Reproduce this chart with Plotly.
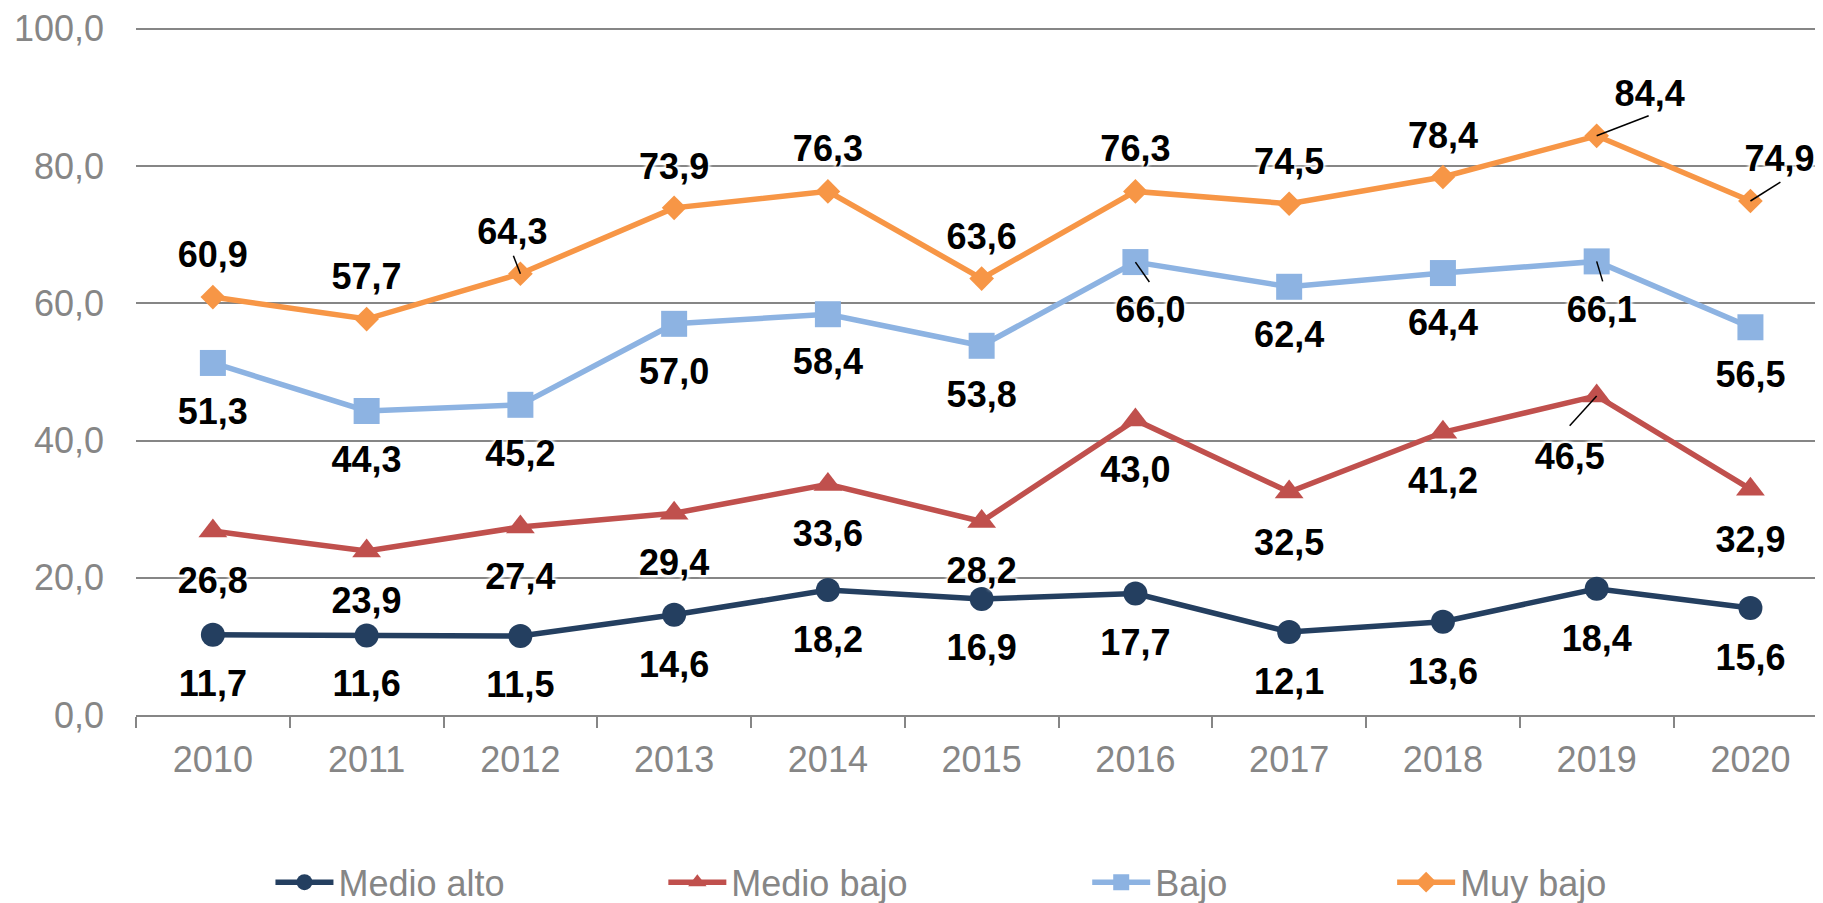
import plotly.graph_objects as go

# ---------------- data ----------------
years = ["2010", "2011", "2012", "2013", "2014", "2015", "2016", "2017", "2018", "2019", "2020"]
medio_alto = [11.7, 11.6, 11.5, 14.6, 18.2, 16.9, 17.7, 12.1, 13.6, 18.4, 15.6]
medio_bajo = [26.8, 23.9, 27.4, 29.4, 33.6, 28.2, 43.0, 32.5, 41.2, 46.5, 32.9]
bajo = [51.3, 44.3, 45.2, 57.0, 58.4, 53.8, 66.0, 62.4, 64.4, 66.1, 56.5]
muy_bajo = [60.9, 57.7, 64.3, 73.9, 76.3, 63.6, 76.3, 74.5, 78.4, 84.4, 74.9]
series_names = ["Medio alto", "Medio bajo", "Bajo", "Muy bajo"]

# ---------------- label placement (pixel offsets from the point, +down) ----------------
lab_dx = {
    "Medio alto": [0, 0, 0, 0, 0, 0, 0, 0, 0, 0, 0],
    "Medio bajo": [0, 0, 0, 0, 0, 0, 0, 0, 0, -27, 0],
    "Bajo": [0, 0, 0, 0, 0, 0, 15, 0, 0, 5, 0],
    "Muy bajo": [0, 0, -8, 0, 0, 0, 0, 0, 0, 53, 29],
}
lab_dy = {
    "Medio alto": [47, 47, 47, 48, 48, 47, 48, 48, 48, 48, 48],
    "Medio bajo": [48, 48, 48, 48, 48, 48, 48, 49, 47, 59, 49],
    "Bajo": [47, 47, 47, 46, 46, 47, 46, 46, 48, 47, 46],
    "Muy bajo": [-44, -44, -44, -43, -44, -44, -44, -44, -43, -44, -44],
}
TEXT_BASE_SHIFT = 5  # visual centre of digits vs. text anchor
# leader lines: point index -> end of the leader (pixel offset from the point)
leaders = {
    "Medio alto": {},
    "Medio bajo": {9: (-27, 30)},
    "Bajo": {6: (14, 20), 9: (6, 20)},
    "Muy bajo": {2: (-7, -18), 9: (52, -20), 10: (30, -19)},
}

# ---------------- styles ----------------
colors = {"Medio alto": "#243F60", "Medio bajo": "#C0504D", "Bajo": "#8DB3E2", "Muy bajo": "#F79646"}
symbols = {"Medio alto": "circle", "Medio bajo": "triangle-up", "Bajo": "square", "Muy bajo": "diamond"}
msizes = {"Medio alto": 24, "Medio bajo": 25, "Bajo": 26, "Muy bajo": 19}
values = {"Medio alto": medio_alto, "Medio bajo": medio_bajo, "Bajo": bajo, "Muy bajo": muy_bajo}

# page has an 8px body margin: figure coords = page coords - 8
W, H = 1815, 895
ML, MR, MT, MB = 127.5, 0, 17.75, 187.5
XR = [-0.5, 10.472]
YR = [0, 100.4]
plot_w = W - ML - MR
plot_h = H - MT - MB
sx = plot_w / (XR[1] - XR[0])   # px per category step
sy = plot_h / (YR[1] - YR[0])   # px per unit
gray = "#868686"
FONT = "Liberation Sans, Arial, sans-serif"

legend_sym_left = [269, 662, 1086, 1391]   # figure coords
legend_center_y = 875                      # figure coords

fig = go.Figure()
for k, name in enumerate(series_names):
    fig.add_trace(go.Scatter(
        x=years, y=values[name], name=name, mode="lines+markers",
        line=dict(color=colors[name], width=5.5),
        marker=dict(symbol=symbols[name], size=msizes[name], color=colors[name]),
        legend="legend" if k == 0 else f"legend{k+1}",
    ))

def fmt(v):
    return f"{v:.1f}".replace(".", ",")

# leader lines (on the overlay numeric axis)
lx, ly = [], []
for name in series_names:
    vals = values[name]
    for j, (ex, ey) in leaders[name].items():
        lx += [j, j + ex / sx, None]
        ly += [vals[j], vals[j] - ey / sy, None]
fig.add_trace(go.Scatter(
    x=lx, y=ly, xaxis="x2", yaxis="y", mode="lines",
    line=dict(color="black", width=1.5), showlegend=False, hoverinfo="skip",
))

# data labels
for name in series_names:
    vals = values[name]
    fig.add_trace(go.Scatter(
        x=[j + lab_dx[name][j] / sx for j in range(len(vals))],
        y=[v - (lab_dy[name][j] + TEXT_BASE_SHIFT) / sy for j, v in enumerate(vals)],
        xaxis="x2", yaxis="y", mode="text", cliponaxis=False,
        text=[fmt(v) for v in vals], textposition="middle center",
        textfont=dict(family=FONT, size=36, color="black", weight="bold",
                      shadow="white 0px 0px 3px, white 0px 0px 3px, white 0px 0px 4px, white 0px 0px 4px, white 0px 0px 5px"),
        showlegend=False, hoverinfo="skip",
    ))

legends = {}
for k, sxl in enumerate(legend_sym_left):
    key = "legend" if k == 0 else f"legend{k+1}"
    legends[key] = dict(
        x=(sxl - 7 - ML) / plot_w, xanchor="left",
        y=(MT + plot_h - legend_center_y) / plot_h, yanchor="middle",
        orientation="h", itemwidth=58, bgcolor="rgba(0,0,0,0)",
        font=dict(family=FONT, size=36, color=gray),
    )

fig.update_layout(
    width=W, height=H,
    margin=dict(l=ML, r=MR, t=MT, b=MB, autoexpand=False),
    paper_bgcolor="white", plot_bgcolor="white",
    separators=",.",
    showlegend=True,
    xaxis2=dict(overlaying="x", anchor="y", range=XR, visible=False),
    **legends,
)

fig.layout.xaxis.update(
    type="category", range=XR,
    showgrid=False, showline=True, linecolor=gray, linewidth=1.5,
    ticks="outside", tickson="boundaries", ticklen=11, tickcolor=gray, tickwidth=1.5,
    tickfont=dict(family=FONT, size=36, color=gray),
    ticklabelstandoff=12,
)
fig.update_yaxes(
    range=YR, tickvals=[0, 20, 40, 60, 80, 100], tickformat=".1f",
    showgrid=True, gridcolor=gray, gridwidth=1.5,
    zeroline=False, showline=False, ticks="",
    tickfont=dict(family=FONT, size=36, color=gray),
    ticklabelstandoff=31,
)

fig.write_html("out.html")
